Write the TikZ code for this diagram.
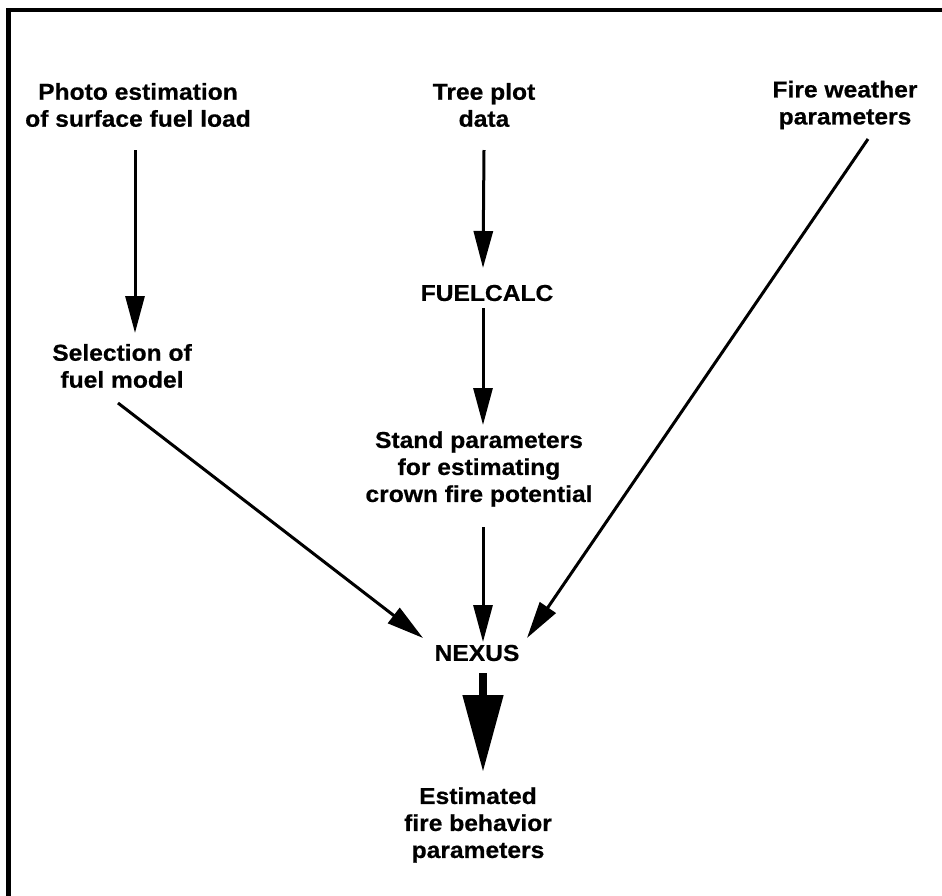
\documentclass[tikz,border=0pt]{standalone}
\usepackage{fontspec}
\setmainfont[FakeStretch=1.07,BoldFeatures={FakeBold=0.6}]{Liberation Sans}
\usetikzlibrary{arrows.meta}
\begin{document}
\begin{tikzpicture}[x=1pt,y=-1pt,
  lbl/.style={inner sep=0pt,align=center,font=\fontsize{23}{27}\selectfont\bfseries},
  arr/.style={line width=3pt,-{Triangle[length=37pt,width=19pt]}},
  bigarr/.style={line width=8pt,-{Triangle[length=77pt,width=39pt]}}]
\useasboundingbox (0,0) rectangle (942,895);
\fill[white] (0,0) rectangle (942,895);
\draw[line width=4.5pt] (8.5,900) -- (8.5,10) -- (950,10);
\node[lbl] (photo) at (138,105) {Photo estimation\\of surface fuel load};
\node[lbl] (tree) at (484,105) {Tree plot\\data};
\node[lbl] (fire) at (845,105) {Fire weather\\parameters};
\node[lbl] (sel) at (122,366) {Selection of\\fuel model};
\node[lbl] (fuelcalc) at (487,293) {FUELCALC};
\node[lbl] (stand) at (479,469) {Stand parameters\\for estimating\\crown fire potential};
\node[lbl] (nexus) at (477,653) {NEXUS};
\node[lbl] (est) at (478,825) {Estimated\\fire behavior\\parameters};
\draw[arr] ([shift={(-3,45)}]photo.center) -- ([shift={(13,-33)}]sel.center);
\draw[arr] ([shift={(-4,37)}]sel.center) -- ([shift={(-54,-15)}]nexus.center);
\draw[arr] ([shift={(0,45)}]tree.center) -- ([shift={(-4,-25)}]fuelcalc.center);
\draw[arr] ([shift={(-4,15)}]fuelcalc.center) -- ([shift={(4,-44)}]stand.center);
\draw[arr] ([shift={(4,58)}]stand.center) -- ([shift={(6,-11)}]nexus.center);
\draw[arr] ([shift={(23,34)}]fire.center) -- ([shift={(50,-15)}]nexus.center);
\draw[bigarr] ([shift={(6,20)}]nexus.center) -- ([shift={(5,-53)}]est.center);
\end{tikzpicture}
\end{document}
